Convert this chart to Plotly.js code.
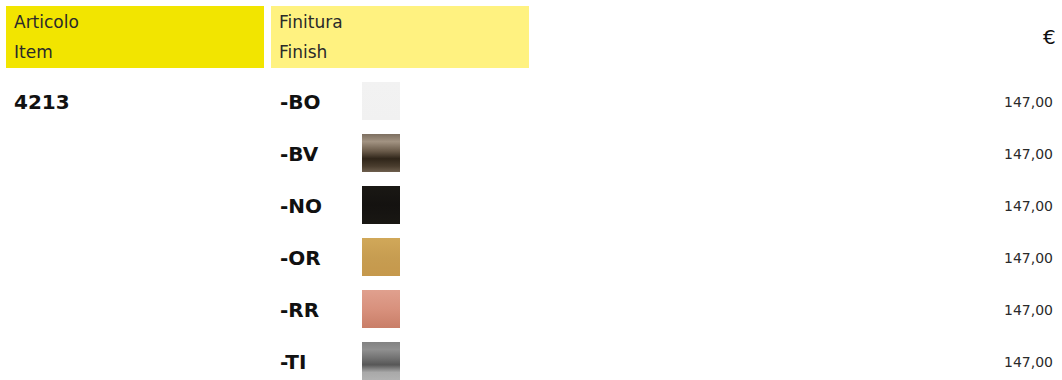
<!DOCTYPE html>
<html>
<head>
<meta charset="utf-8">
<script src="https://cdn.plot.ly/plotly-3.0.1.min.js"></script>
<style>
html,body{margin:0;padding:0;background:#fff;}
#chart{width:1062px;height:380px;}
</style>
</head>
<body>
<div id="chart"></div>
<script>
// ---- data ----
const headerItem = ["Articolo", "Item"];
const headerFinish = ["Finitura", "Finish"];
const currencyLabel = "€";
const itemCode = "4213";
const finishCodes = ["-BO", "-BV", "-NO", "-OR", "-RR", "-TI"];
const prices = [147.00, 147.00, 147.00, 147.00, 147.00, 147.00];

// ---- styles (finish swatch colours, top -> bottom) ----
const swatchScales = [
  [[0, "#f2f2f2"], [1, "#f1f1f1"]],
  [[0, "#7d6f60"], [0.2, "#a29382"], [0.45, "#6a5b4a"], [0.65, "#2f2519"], [0.85, "#4a3d2e"], [1, "#6e5f4e"]],
  [[0, "#1a1814"], [0.5, "#141210"], [1, "#191713"]],
  [[0, "#d1a859"], [0.5, "#c79d51"], [1, "#c5984c"]],
  [[0, "#e0a08e"], [0.5, "#d8917d"], [1, "#c97e68"]],
  [[0, "#828282"], [0.2, "#909090"], [0.45, "#6e6e6e"], [0.6, "#575757"], [0.8, "#a9a9a9"], [1, "#b2b2b2"]]
];

// ---- layout constants (pixels) ----
const W = 1062, H = 380;
const rowY0 = 101, rowGap = 52, textDy = 1;
const swX0 = 362, swSize = 38;
const FONT = "'DejaVu Sans', sans-serif";

const fmt = v => v.toFixed(2).replace(".", ",");

const traces = [];
finishCodes.forEach((code, i) => {
  const cy = rowY0 + i * rowGap;
  const y0 = cy - swSize / 2, y1 = cy + swSize / 2;
  traces.push({
    type: "scatter", mode: "lines",
    x: [swX0, swX0 + swSize, swX0 + swSize, swX0, swX0],
    y: [y0, y0, y1, y1, y0],
    fill: "toself",
    fillgradient: { type: "vertical", colorscale: swatchScales[i], start: y0, stop: y1 },
    line: { width: 0 },
    hoverinfo: "skip", showlegend: false
  });
});

const annotations = [];
function txt(x, y, text, size, anchor, color, weight) {
  annotations.push({
    x: x, y: y, xref: "x", yref: "y", text: text, showarrow: false,
    xanchor: anchor, yanchor: "middle",
    font: { family: FONT, size: size, color: color, weight: weight || "normal" }
  });
}
headerItem.forEach((t, k) => txt(12, 22 + k * 30, t, 17, "left", "#2a2a2a"));
headerFinish.forEach((t, k) => txt(277, 22 + k * 30, t, 17, "left", "#2a2a2a"));
txt(1058, 37, currencyLabel, 20, "right", "#111");
txt(12, rowY0 + textDy, "<b>" + itemCode + "</b>", 20, "left", "#111");
finishCodes.forEach((c, i) => {
  txt(278, rowY0 + i * rowGap + textDy, "<b>" + c + "</b>", 20, "left", "#111");
  txt(1055, rowY0 + i * rowGap + textDy, fmt(prices[i]), 14, "right", "#2a2a2a");
});

const shapes = [
  { type: "rect", xref: "x", yref: "y", x0: 6, x1: 264, y0: 6, y1: 68, fillcolor: "#f2e500", line: { width: 0 }, layer: "below" },
  { type: "rect", xref: "x", yref: "y", x0: 271, x1: 529, y0: 6, y1: 68, fillcolor: "#fff280", line: { width: 0 }, layer: "below" }
];

const layout = {
  width: W, height: H,
  margin: { l: 0, r: 0, t: 0, b: 0 },
  paper_bgcolor: "#fff", plot_bgcolor: "#fff",
  xaxis: { range: [0, W], visible: false, fixedrange: true },
  yaxis: { range: [H, 0], visible: false, fixedrange: true },
  showlegend: false,
  shapes: shapes,
  annotations: annotations
};

Plotly.newPlot("chart", traces, layout, { staticPlot: true, displayModeBar: false });
</script>
</body>
</html>
